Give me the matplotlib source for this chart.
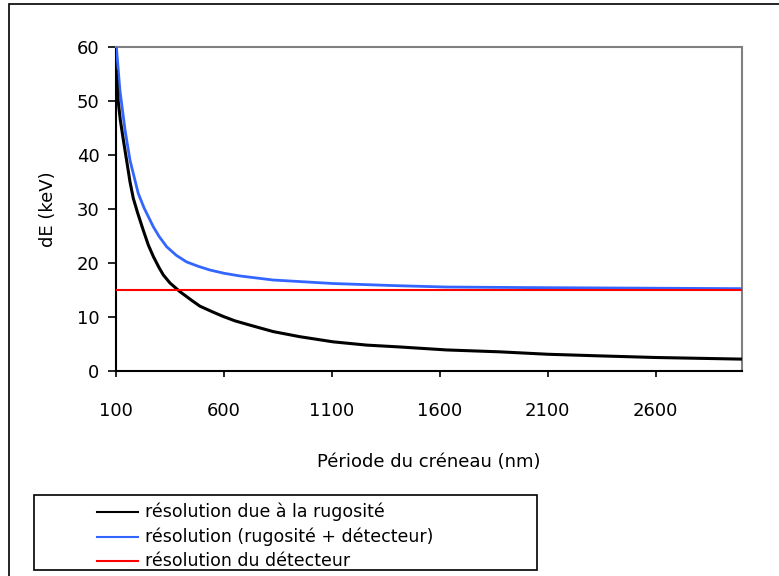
import matplotlib.pyplot as plt
from matplotlib.lines import Line2D
from matplotlib.patches import Rectangle

# values
periode_noir = [100, 110, 120, 134, 150, 165, 180, 200, 226, 250, 273, 300, 319, 350, 396,
                450, 489, 550, 597, 650, 720, 828, 952, 1106, 1260, 1415, 1631, 1878,
                2100, 2341, 2600, 2800, 3000]
rugosite = [55.5, 50.0, 46.5, 42.8, 38.8, 35.0, 32.0, 29.3, 26.1, 23.3, 21.2, 19.1, 17.8, 16.3, 14.7,
            13.1, 12.0, 10.9, 10.1, 9.3, 8.5, 7.3, 6.35, 5.4, 4.8, 4.45, 3.9, 3.55,
            3.1, 2.8, 2.5, 2.35, 2.2]

periode_bleu = [100, 103, 118, 142, 165, 203, 230, 257, 273, 300, 335, 380, 427, 480, 535, 600,
                674, 828, 1106, 1400, 1631, 2000, 2500, 3000]
rugo_detect = [61.0, 59.4, 52.0, 44.6, 39.0, 32.9, 30.2, 28.0, 26.7, 24.9, 23.0, 21.4, 20.2, 19.4,
               18.7, 18.1, 17.6, 16.85, 16.2, 15.8, 15.55, 15.45, 15.35, 15.25]

detecteur_x = [100, 3000]
detecteur = [15, 15]

labels = ['résolution due à la rugosité',
          'résolution (rugosité + détecteur)',
          'résolution du détecteur']
colors = ['black', '#3366FF', '#FF0000']

plt.rcParams['font.family'] = 'DejaVu Sans'
fs = 13

W, H = 779, 576
fig = plt.figure(figsize=(W / 100, H / 100), dpi=100)
ax = fig.add_axes([116 / W, 1 - 371 / H, (742 - 116) / W, (371 - 47) / H])

ax.plot(periode_bleu, rugo_detect, color=colors[1], lw=2, zorder=3)
ax.plot(periode_noir, rugosite, color=colors[0], lw=2.2, zorder=4)
ax.plot(detecteur_x, detecteur, color=colors[2], lw=1.5, zorder=5)

ax.set_xlim(100, 3000)
ax.set_ylim(0, 60)
ax.set_xticks([100, 600, 1100, 1600, 2100, 2600])
ax.set_yticks([0, 10, 20, 30, 40, 50, 60])
ax.tick_params(axis='x', direction='out', length=4, width=1.2, pad=18, labelsize=fs)
ax.tick_params(axis='y', direction='out', length=6, width=1.2, pad=6, labelsize=fs)
ax.set_xlabel('Période du créneau (nm)', fontsize=fs, labelpad=24)
ax.set_ylabel('dE (keV)', fontsize=fs, labelpad=14)

for side in ['left', 'bottom']:
    ax.spines[side].set_color('black')
    ax.spines[side].set_linewidth(1.5)
for side in ['top', 'right']:
    ax.spines[side].set_color('#808080')
    ax.spines[side].set_linewidth(1.5)

# outer frame, running off the right and bottom edges like the original
fig.patches.append(Rectangle((9 / W, -0.05), 1.0, 1.05 - 4 / H, transform=fig.transFigure,
                             fill=False, edgecolor='black', lw=1.2))

# legend box drawn by hand (clipped at the bottom like the original)
fig.patches.append(Rectangle((34 / W, 1 - 570 / H), (537 - 34) / W, (570 - 495) / H,
                             transform=fig.transFigure, fill=False, edgecolor='black', lw=1.2))
rows = [512, 537, 561]
for lab, col, yy in zip(labels, colors, rows):
    fig.lines.append(Line2D([97 / W, 138 / W], [1 - yy / H, 1 - yy / H],
                            transform=fig.transFigure, color=col, lw=1.5))
    fig.text(145 / W, 1 - yy / H, lab, fontsize=12.5, va='center', ha='left')

fig.savefig('out.png', dpi=100)
